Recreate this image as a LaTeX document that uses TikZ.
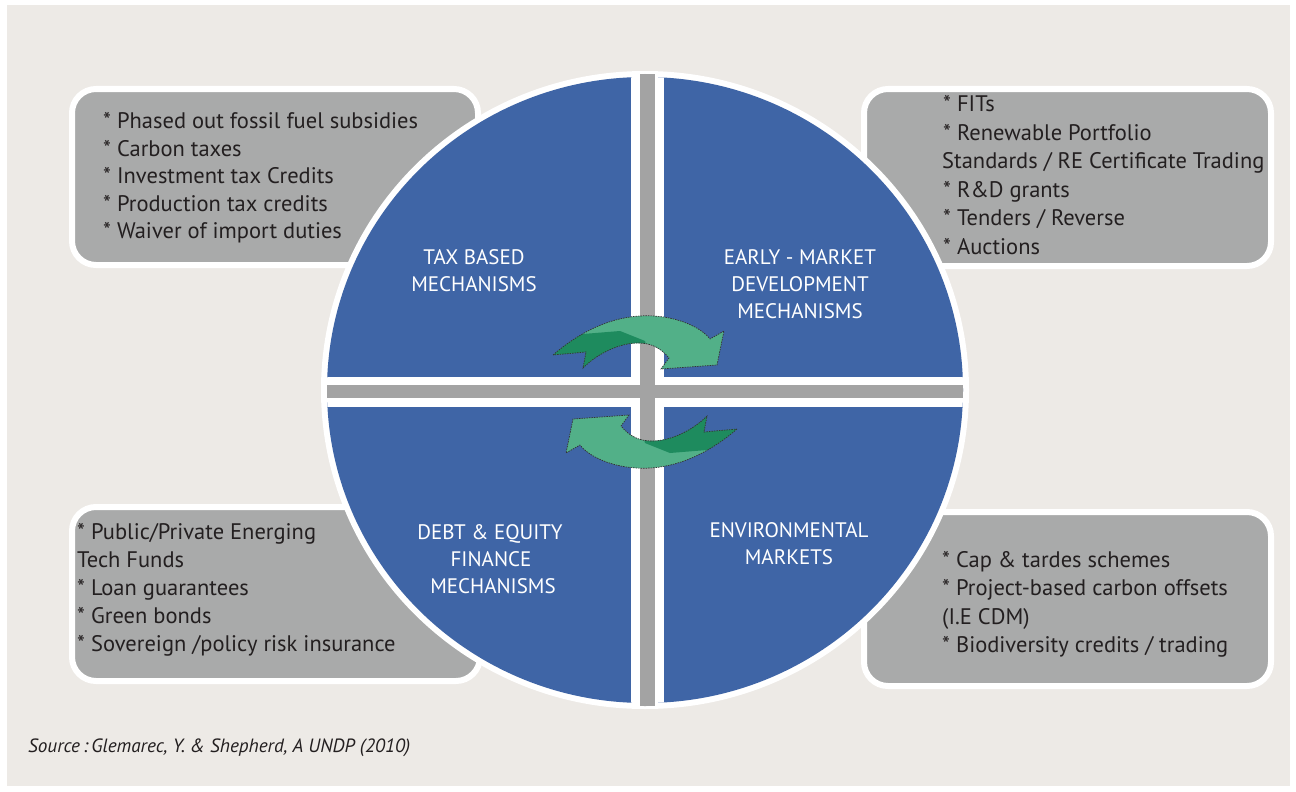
\documentclass[tikz,border=0pt]{standalone}
\usepackage{fontspec}
\setmainfont{PT Sans}
\definecolor{bg}{HTML}{EDEAE6}
\definecolor{qblue}{HTML}{3F65A6}
\definecolor{bargray}{HTML}{A3A3A3}
\definecolor{boxgray}{HTML}{A9AAAA}
\definecolor{lgreen}{HTML}{52B088}
\definecolor{dgreen}{HTML}{1E8B5E}
\definecolor{txt}{HTML}{231F20}
\tikzset{
  listbox/.style={draw=white, line width=6pt, fill=boxgray, rounded corners=24pt},
  boxtxt/.style={font=\fontsize{22.5}{26}\selectfont, text=txt, anchor=base west, inner sep=0pt},
  qlab/.style={font=\fontsize{21}{25}\selectfont, text=white, anchor=base, inner sep=0pt},
  srctxt/.style={font=\fontsize{19.2}{22}\selectfont\itshape, text=txt, anchor=base west, inner sep=0pt},
  arrowline/.style={draw=black!80, line width=0.7pt, dash pattern=on 1.5pt off 1pt}
}
\def\greenarrow{(553,355) .. controls (575,336) and (605,318) .. (640,316) .. controls (672,314) and (700,326) .. (710,339) -- (724,331) -- (717,365) -- (661,369) -- (669,358) .. controls (660,347) and (650,343) .. (638,343) .. controls (620,343) and (598,353) .. (583,368) -- (586,352) -- cycle}
\def\darkpart{(540,350) -- (583,334) -- (620,331) -- (645,341) -- (655,380) -- (540,380) -- cycle}
\begin{document}
\begin{tikzpicture}[x=1pt,y=-1pt]
\useasboundingbox (0,0) rectangle (1296,792);
\fill[white] (0,0) rectangle (1296,792);
\fill[bg] (7,5) rectangle (1290,786);

% side boxes
\draw[listbox] (72,89) rectangle (478,265);
\draw[listbox] (864,89) rectangle (1271,266);
\draw[listbox] (72,507) rectangle (480,681);
\draw[listbox] (864,512) rectangle (1271,686);

% circle
\fill[white] (645,390) ellipse [x radius=324pt, y radius=319pt];
\fill[qblue] (645,390) ellipse [x radius=318pt, y radius=313pt];
\begin{scope}
  \clip (645,390) ellipse [x radius=318pt, y radius=313pt];
  \fill[white] (631,0) rectangle (664,792);
  \fill[white] (0,377) rectangle (1296,407);
\end{scope}
\begin{scope}
  \clip (645,390) ellipse [x radius=318pt, y radius=316pt];
  \fill[bargray] (640,0) rectangle (655,792);
  \fill[bargray] (0,385) rectangle (1296,398);
\end{scope}

% green arrows
\fill[lgreen] \greenarrow;
\begin{scope}
  \clip \greenarrow;
  \fill[dgreen] \darkpart;
\end{scope}
\draw[arrowline] \greenarrow;
\begin{scope}[rotate around={180:(645,392)}]
  \fill[lgreen] \greenarrow;
  \begin{scope}
    \clip \greenarrow;
    \fill[dgreen] \darkpart;
  \end{scope}
  \draw[arrowline] \greenarrow;
\end{scope}

% quadrant labels
\node[qlab] (q1a) at (474,264.5) {TAX BASED};
\node[qlab] (q1b) at (474,291.5) {MECHANISMS};
\node[qlab] (q2a) at (800,264.5) {EARLY - MARKET};
\node[qlab] (q2b) at (800,291.5) {DEVELOPMENT};
\node[qlab] (q2c) at (800,318.5) {MECHANISMS};
\node[qlab] (q3a) at (490,539.5) {DEBT \& EQUITY};
\node[qlab] (q3b) at (491,566.5) {FINANCE};
\node[qlab] (q3c) at (493,593.5) {MECHANISMS};
\node[qlab] (q4a) at (789,537.5) {ENVIRONMENTAL};
\node[qlab] (q4b) at (789,564.5) {MARKETS};

% box texts
\node[boxtxt] (tl1) at (103,128.5) {* Phased out fossil fuel subsidies};
\node[boxtxt] (tl2) at (103,156) {* Carbon taxes};
\node[boxtxt] (tl3) at (103,183.5) {* Investment tax Credits};
\node[boxtxt] (tl4) at (103,211) {* Production tax credits};
\node[boxtxt] (tl5) at (103,238.5) {* Waiver of import duties};

\node[boxtxt] (tr1) at (943,111.5) {* FITs};
\node[boxtxt] (tr2) at (943,140) {* Renewable Portfolio};
\node[boxtxt] (tr3) at (942,168.7) {Standards / RE Certificate Trading};
\node[boxtxt] (tr4) at (943,197.3) {* R\&D grants};
\node[boxtxt] (tr5) at (943,225.9) {* Tenders / Reverse};
\node[boxtxt] (tr6) at (943,254.5) {* Auctions};

\node[boxtxt] (bl1) at (77,539.5) {* Public/Private Energing};
\node[boxtxt] (bl2) at (77,567.5) {Tech Funds};
\node[boxtxt] (bl3) at (77,595.5) {* Loan guarantees};
\node[boxtxt] (bl4) at (77,623.5) {* Green bonds};
\node[boxtxt] (bl5) at (77,651.5) {* Sovereign /policy risk insurance};

\node[boxtxt] (br1) at (942,567.5) {* Cap \& tardes schemes};
\node[boxtxt] (br2) at (942,595.8) {* Project-based carbon offsets};
\node[boxtxt] (br3) at (942,624.1) {(I.E CDM)};
\node[boxtxt] (br4) at (942,652.5) {* Biodiversity credits / trading};

\node[srctxt] (src) at (28,752) {Source\,:\,Glemarec, Y. \& Shepherd, A UNDP (2010)};
\end{tikzpicture}
\end{document}
